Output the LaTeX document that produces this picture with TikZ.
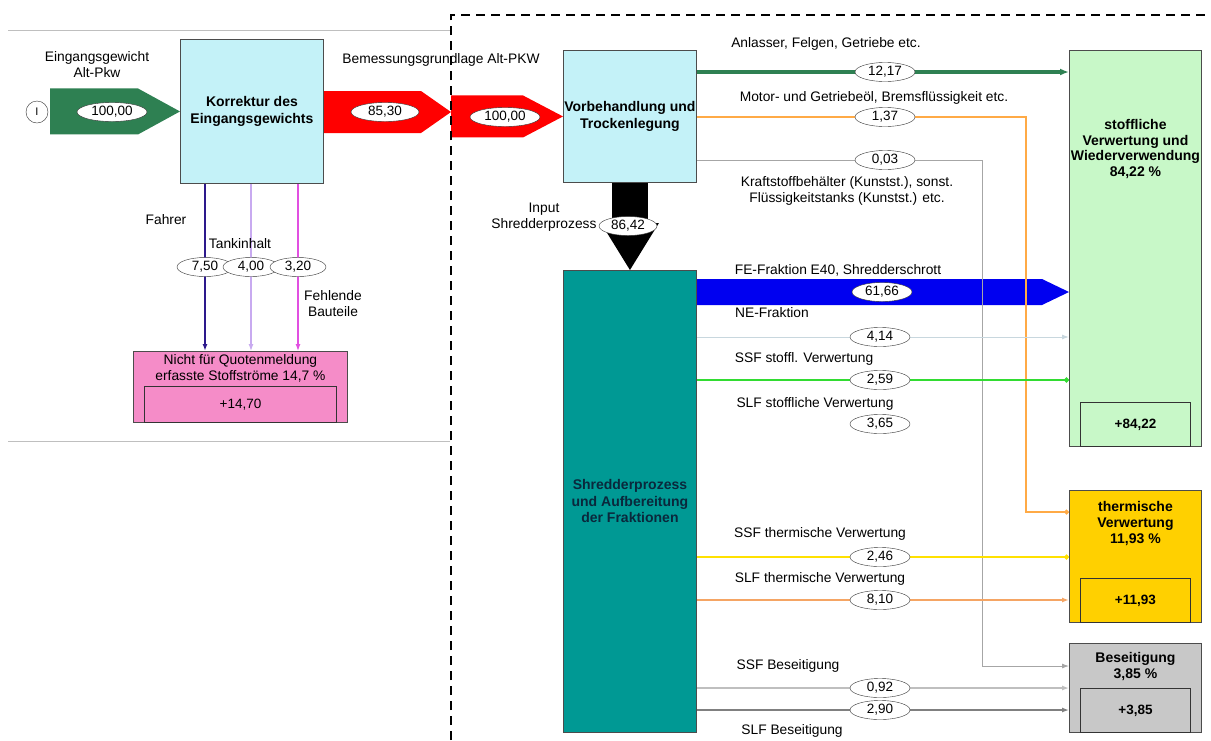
\documentclass[tikz,border=0pt]{standalone}
\usepackage{fontspec}
\setmainfont{Liberation Sans}
\usetikzlibrary{arrows.meta,shapes.geometric,backgrounds,calc}
\definecolor{boxcyan}{RGB}{196,242,248}
\definecolor{ingreen}{RGB}{46,128,82}
\definecolor{shredteal}{RGB}{0,153,148}
\definecolor{shredtext}{RGB}{10,40,60}
\definecolor{stoffgreen}{RGB}{200,248,200}
\definecolor{thermgold}{RGB}{255,208,0}
\definecolor{beseigray}{RGB}{200,200,200}
\definecolor{quotpink}{RGB}{245,140,200}
\definecolor{feblue}{RGB}{0,0,240}
\definecolor{oilorange}{RGB}{255,170,70}
\definecolor{slforange}{RGB}{245,165,100}
\definecolor{ssfyellow}{RGB}{255,225,0}
\definecolor{ssfgreen}{RGB}{50,220,50}
\definecolor{nelight}{RGB}{200,215,222}
\definecolor{driverpurple}{RGB}{45,25,140}
\definecolor{tanklilac}{RGB}{200,170,240}
\definecolor{partmagenta}{RGB}{225,80,225}

\begin{document}
\begin{tikzpicture}[x=1pt, y=-1pt, font=\fontsize{13.8}{16}\selectfont,
  procbox/.style={draw=black!70, line width=0.9pt, anchor=north west, inner sep=0pt, align=center, font=\fontsize{14}{16.5}\selectfont\bfseries},
  sumbox/.style={draw=black!80, line width=0.9pt, anchor=south, inner sep=0pt, minimum width=110, minimum height=44, font=\fontsize{13.5}{15}\selectfont\bfseries},
  boxtext/.style={inner sep=0pt, align=center, font=\fontsize{14}{15.8}\selectfont\bfseries},
  val/.style={ellipse, draw=black!80, fill=white, inner sep=0pt, minimum width=60, minimum height=19, font=\fontsize{13.5}{15}\selectfont},
  txt/.style={inner sep=0pt, align=center},
  flowtip/.style={-{Latex[length=7pt,width=5pt]}},
  flowdot/.style={-{Circle[length=5pt]}}]
\useasboundingbox (0,0) rectangle (1211,740);
\begin{scope}[on background layer]
\fill[white] (0,0) rectangle (1211,740);
\end{scope}

% Bilanzgrenzen
\draw[black!25] (8,30) -- (450,30);
\draw[black!25] (8,441) -- (450,441);
\draw[black, line width=1.8pt, dash pattern=on 9pt off 6pt] (451,740) -- (451,15) -- (1211,15);
\coordinate (grenze) at (451,112);

% Prozesse
\node[procbox, fill=boxcyan, minimum width=143, minimum height=144] (korr) at (180,39) {Korrektur des\\Eingangsgewichts};
\node[procbox, fill=boxcyan, minimum width=133, minimum height=132] (vorb) at (563,50) {Vorbehandlung und\\Trockenlegung};
\node[procbox, fill=shredteal, text=shredtext, minimum width=133, minimum height=462] (shred) at (563,270) {Shredderprozess\\und Aufbereitung\\der Fraktionen};

% Senken
\node[procbox, fill=stoffgreen, minimum width=132, minimum height=396] (stoff) at (1069,50) {};
\node[procbox, fill=thermgold, minimum width=132, minimum height=132] (therm) at (1069,490) {};
\node[procbox, fill=beseigray, minimum width=132, minimum height=89] (besei) at (1069,643) {};
\node[procbox, fill=quotpink, minimum width=214, minimum height=71] (quote) at (133,351) {};
\node[boxtext] at ([yshift=-99pt]stoff.north) {stoffliche\\Verwertung und\\Wiederverwendung\\84,22 \%};
\node[boxtext] at ([yshift=-33.5pt]therm.north) {thermische\\Verwertung\\11,93 \%};
\node[boxtext] at ([yshift=-23.5pt]besei.north) {Beseitigung\\3,85 \%};
\node[txt] at ([yshift=-17.5pt]quote.north) {Nicht für Quotenmeldung\\erfasste Stoffströme 14,7 \%};
\node[sumbox] at (stoff.south) {+84,22};
\node[sumbox] at (therm.south) {+11,93};
\node[sumbox] at (besei.south) {+3,85};
\node[sumbox, minimum width=192, minimum height=36, font=\fontsize{13.5}{15}\selectfont] at (quote.south) {+14,70};

% Eingang
\node[circle, draw=black!80, inner sep=0pt, minimum size=22, font=\fontsize{11}{13}\selectfont] (inp) at (37,112) {I};
\node[txt] at (97,65) {Eingangsgewicht\\Alt-Pkw};
\node[txt] at (441,60) {Bemessungsgrundlage Alt-PKW};
\node[txt] at (544,217) {Input\\Shredderprozess};

% Werte
\node[val, minimum width=70] (v100a) at (112,112) {100,00};
\node[val, minimum width=68] (v8530) at (385,112) {85,30};
\node[val, minimum width=70] (v100b) at (505,117) {100,00};
\node[val, minimum width=58] (v8642) at (628,226) {86,42};
\node[val, minimum width=56] (v750) at (205,267) {7,50};
\node[val, minimum width=56] (v400) at (251,267) {4,00};
\node[val, minimum width=56] (v320) at (298,267) {3,20};
\node[val] (v1217) at (885,72) {12,17};
\node[val] (v137) at (885,117) {1,37};
\node[val] (v003) at (885,160) {0,03};
\node[val] (v6166) at (882,292) {61,66};
\node[val] (v414) at (880,337) {4,14};
\node[val] (v259) at (880,380) {2,59};
\node[val] (v365) at (880,424) {3,65};
\node[val] (v246) at (880,557) {2,46};
\node[val] (v810) at (880,600) {8,10};
\node[val] (v092) at (880,688) {0,92};
\node[val] (v290) at (880,710) {2,90};

% Beschriftungen
\node[txt] at (166,220) {Fahrer};
\node[txt] at (240,244) {Tankinhalt};
\node[txt] at (333,304) {Fehlende\\Bauteile};
\node[txt] at (826,44) {Anlasser, Felgen, Getriebe etc.};
\node[txt] at (874,98) {Motor- und Getriebeöl, Bremsflüssigkeit etc.};
\node[txt] at (847,191) {Kraftstoffbehälter (Kunstst.), sonst.\\Flüssigkeitstanks (Kunstst.) etc.};
\node[txt] at (838,270) {FE-Fraktion E40, Shredderschrott};
\node[txt] at (772,313) {NE-Fraktion};
\node[txt] at (804,359) {SSF stoffl. Verwertung};
\node[txt] at (815,404) {SLF stoffliche Verwertung};
\node[txt] at (820,534) {SSF thermische Verwertung};
\node[txt] at (820,579) {SLF thermische Verwertung};
\node[txt] at (788,666) {SSF Beseitigung};
\node[txt] at (792,731) {SLF Beseitigung};

\coordinate (oil) at (1026,512);
\coordinate (tank) at (982,666);

\begin{scope}[on background layer]
% breite Pfeile
\fill[ingreen] (korr.west) -- ++(-42,-23) -- ++(-88,0) -- ++(0,46) -- ++(88,0) -- cycle;
\fill[red] (grenze) -- ++(-30,-21) -- ++(-98,0) -- ++(0,42) -- ++(98,0) -- cycle;
\fill[red] (vorb.west) -- ++(-40,-21) -- ++(-72,0) -- ++(0,42) -- ++(72,0) -- cycle;
\fill[black] ([xshift=-18pt]vorb.south) rectangle ([xshift=18pt,yshift=-42pt]vorb.south);
\fill[black] (shred.north) -- ++(-29,-47) -- ++(58,0) -- cycle;
\fill[feblue] (stoff.west |- v6166) -- ++(-27,-13) -- ++(-347,0) -- ++(0,26) -- ++(347,0) -- cycle;
% nicht erfasste Stoffstroeme
\draw[driverpurple, line width=1.8pt, flowtip] (v750 |- korr.south) -- (v750 |- quote.north);
\draw[tanklilac, line width=1.2pt, flowtip] (v400 |- korr.south) -- (v400 |- quote.north);
\draw[partmagenta, line width=1.2pt, flowtip] (v320 |- korr.south) -- (v320 |- quote.north);
% Vorbehandlung
\draw[ingreen, line width=3.5pt, -{Latex[length=9pt,width=7pt]}] (vorb.east |- v1217) -- (stoff.west |- v1217);
\draw[oilorange, line width=1.2pt, flowdot] (vorb.east |- v137) -| (oil) -- (therm.west |- oil);
\draw[black!35, line width=0.9pt, flowtip] (vorb.east |- v003) -| (tank) -- (besei.west |- tank);
% Shredder
\draw[nelight, line width=1pt, flowtip] (shred.east |- v414) -- (stoff.west |- v414);
\draw[ssfgreen, line width=1.3pt, flowdot] (shred.east |- v259) -- (stoff.west |- v259);
\draw[ssfyellow, line width=1.3pt, flowdot] (shred.east |- v246) -- (therm.west |- v246);
\draw[slforange, line width=2.5pt, flowtip] (shred.east |- v810) -- (therm.west |- v810);
\draw[black!25, line width=1.3pt, flowtip] (shred.east |- v092) -- (besei.west |- v092);
\draw[black!50, line width=1.3pt, flowtip] (shred.east |- v290) -- (besei.west |- v290);
\end{scope}
\end{tikzpicture}
\end{document}
